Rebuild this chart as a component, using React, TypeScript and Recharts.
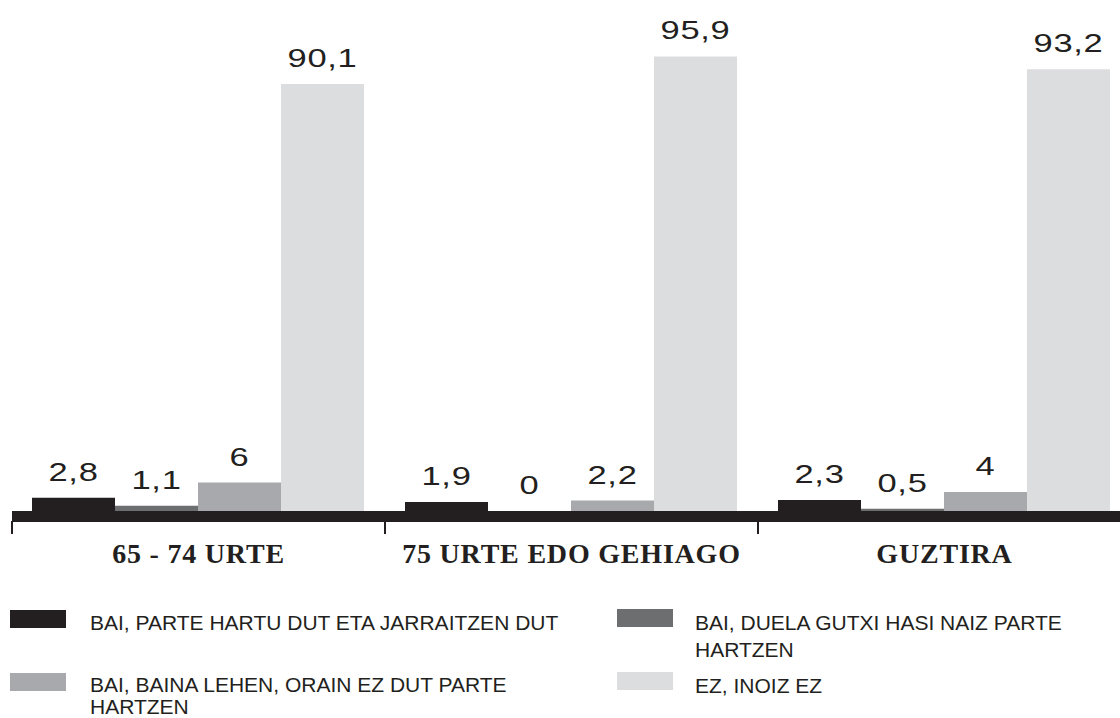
import { Bar, BarChart, LabelList, Legend, XAxis, YAxis } from "recharts";

const categories = ["65 - 74 URTE", "75 URTE EDO GEHIAGO", "GUZTIRA"];
const seriesNames = [
  "BAI, PARTE HARTU DUT ETA JARRAITZEN DUT",
  "BAI, DUELA GUTXI HASI NAIZ PARTE HARTZEN",
  "BAI, BAINA LEHEN, ORAIN EZ DUT PARTE HARTZEN",
  "EZ, INOIZ EZ",
];
const jarraitzen = [2.8, 1.9, 2.3];
const berriki = [1.1, 0, 0.5];
const lehen = [6, 2.2, 4];
const inoiz = [90.1, 95.9, 93.2];

const colors = ["#231f20", "#6d6e70", "#a7a9ac", "#dcdddf"];
const keys = ["s1", "s2", "s3", "s4"];

const data = categories.map((name, i) => ({
  name,
  s1: jarraitzen[i],
  s2: berriki[i],
  s3: lehen[i],
  s4: inoiz[i],
}));

const CHART_W = 1140;
const CHART_H = 718;
const MARGIN = { top: 37, right: 9, left: 12, bottom: 147 };
const BAND = (CHART_W - MARGIN.left - MARGIN.right) / categories.length;

const fmt = (v: any) => String(v).replace(".", ",");

// wide sans digits, like the original print font
const ValueLabel = (props: any) => {
  const { x, y, width, value } = props;
  const cx = Number(x) + Number(width) / 2;
  return (
    <text
      transform={`translate(${cx} ${Number(y) - 17}) scale(1.38 1)`}
      textAnchor="middle"
      fill="#231f20"
      fontSize={25}
      fontFamily="'Liberation Sans', Arial, sans-serif"
      letterSpacing={0.5}
    >
      {fmt(value)}
    </text>
  );
};

const CategoryTick = (props: any) => {
  const { x, y, payload } = props;
  const left = x - BAND / 2;
  return (
    <g>
      <line x1={left} x2={left} y1={y + 10} y2={y + 23} stroke="#231f20" strokeWidth={2} />
      <line x1={left + BAND} x2={left + BAND} y1={y + 10} y2={y + 23} stroke="#231f20" strokeWidth={2} />
      <text
        x={x}
        y={y + 52}
        textAnchor="middle"
        fill="#231f20"
        fontFamily="'Liberation Serif', serif"
        fontWeight="bold"
        fontSize={28}
        letterSpacing={0.8}
      >
        {payload.value}
      </text>
    </g>
  );
};

// legend slots by series: [swatchX, swatchTop, textX, textTop, textWidth, lineHeight]
const legendSlots = [
  [10, 10, 90, 11.5, 505, 22],
  [617, 9, 695, 9, 420, 27],
  [10, 73, 90, 73.5, 505, 22],
  [617, 72, 695, 72, 420, 27],
];

const LegendBox = (props: any) => {
  const payload = props.payload || [];
  return (
    <div style={{ position: "relative", width: 1120, height: 118 }}>
      {payload.map((item: any) => {
        const idx = seriesNames.indexOf(item.value);
        if (idx < 0) return null;
        const [sx, st, tx, tt, tw, lh] = legendSlots[idx];
        return (
          <div key={idx}>
            <div
              style={{
                position: "absolute",
                left: sx,
                top: st,
                width: 56,
                height: 18,
                background: item.color,
              }}
            />
            <div
              style={{
                position: "absolute",
                left: tx,
                top: tt,
                width: tw,
                fontFamily: "'Liberation Sans', Arial, sans-serif",
                fontSize: 21,
                lineHeight: `${lh}px`,
                color: "#231f20",
              }}
            >
              {item.value}
            </div>
          </div>
        );
      })}
    </div>
  );
};

export default function App() {
  return (
    <div
      style={{
        position: "absolute",
        left: 0,
        top: 0,
        width: 1120,
        height: 718,
        overflow: "hidden",
        background: "#fff",
      }}
    >
      <BarChart
        width={CHART_W}
        height={CHART_H}
        data={data}
        margin={MARGIN}
        barCategoryGap={20}
        barGap={0}
      >
        <XAxis
          dataKey="name"
          height={60}
          tickLine={false}
          tickSize={0}
          tickMargin={0}
          interval={0}
          axisLine={{ stroke: "#231f20", strokeWidth: 11, transform: "translate(0 5.5)" }}
          tick={<CategoryTick />}
        />
        <YAxis hide domain={[0, 100]} />
        <Legend
          layout="vertical"
          align="center"
          verticalAlign="middle"
          wrapperStyle={{ position: "absolute", top: 600, left: 0, width: 1120 }}
          content={<LegendBox />}
        />
        {keys.map((k, i) => (
          <Bar
            key={k}
            dataKey={k}
            name={seriesNames[i]}
            fill={colors[i]}
            minPointSize={(v: any) => (v === 0 ? 0.01 : 0)}
            isAnimationActive={false}
          >
            <LabelList dataKey={k} position="top" content={<ValueLabel />} />
          </Bar>
        ))}
      </BarChart>
    </div>
  );
}
